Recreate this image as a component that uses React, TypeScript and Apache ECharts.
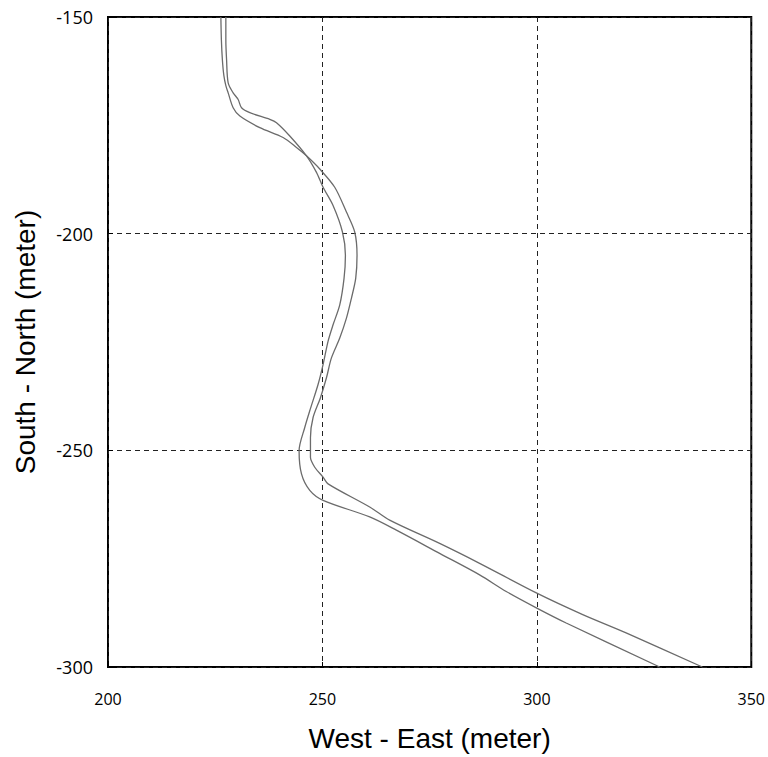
import React, { useEffect, useRef } from "react";
import * as echarts from "echarts";

// Track 1 (west side at the north end, east side in the middle)
const track1X = [226.32, 226.44, 226.67, 227.02, 227.48, 228.02, 229.18, 230.75, 235.4, 240.83, 243.95, 246.28, 249.38, 252.87, 255.6, 257.53, 258.07, 257.76, 256.76, 255.6, 254.04, 252.1, 250.94, 249.54, 247.82, 247.21, 247.21, 248.21, 250.15, 251.31, 261.02, 265.68, 277.33, 286.65, 299.99, 310.7, 320.81, 338.59];
const track1Y = [-150, -155.28, -159.86, -163.53, -165.83, -167.5, -170.94, -172.87, -175.53, -177.82, -180.11, -182.04, -185.09, -189.29, -195.02, -199.61, -204.98, -210.32, -214.91, -219.5, -224.08, -228.67, -233.26, -237.85, -242.43, -247.02, -251.61, -253.9, -256.19, -257.73, -263.07, -266.12, -271.49, -276.08, -282.96, -287.91, -292.13, -300];

// Track 2
const track2X = [227.48, 227.48, 227.65, 228.02, 229.18, 230.35, 231.14, 233.07, 237.73, 239.29, 242.39, 246.28, 248.61, 250.15, 252.48, 254.67, 255.36, 255.04, 254.04, 252.48, 251.31, 250.15, 248.98, 247.28, 245.88, 244.56, 245.12, 247.05, 250.15, 261.02, 267.24, 277.33, 286.65, 292.86, 299.99, 306.84, 328.64];
const track2Y = [-150, -155.28, -159.86, -165.21, -167.5, -169.04, -170.94, -172.09, -173.62, -174.38, -177.45, -182.04, -185.85, -189.29, -193.51, -199.61, -204.98, -210.32, -216.44, -221.03, -224.84, -230.21, -234.8, -240.14, -244.73, -250.07, -255.44, -259.24, -261.54, -265.37, -268.42, -273.78, -278.74, -282.57, -286.4, -289.84, -300];

const xTicks = [200, 250, 300, 350];
const yTicks = [-300, -250, -200, -150];

const zip = (xs: number[], ys: number[]) => xs.map((x, i) => [x, ys[i]]);

export default function App() {
  const ref = useRef<HTMLDivElement>(null);
  useEffect(() => {
    document.body.style.margin = "0";
    const chart = echarts.init(ref.current!, null, { renderer: "svg" });
    const lineStyle = { color: "#6b6b6b", width: 1.3 };
    chart.setOption({
      animation: false,
      backgroundColor: "#ffffff",
      grid: {
        left: 108,
        right: 16,
        top: 17,
        bottom: 86,
        show: true,
        borderColor: "#000000",
        borderWidth: 2,
      },
      xAxis: {
        type: "value",
        min: xTicks[0],
        max: xTicks[xTicks.length - 1],
        interval: 50,
        name: "West - East (meter)",
        nameLocation: "middle",
        nameGap: 57,
        nameTextStyle: { fontFamily: "Liberation Sans", fontSize: 28, color: "#000" },
        axisLine: { show: false },
        axisTick: { show: true, inside: true, length: 5, lineStyle: { color: "#000" } },
        axisLabel: { margin: 24, fontFamily: "Open Sans", fontSize: 16, color: "#000" },
        splitLine: { show: true, lineStyle: { color: "#222", type: [5, 4], width: 1 } },
      },
      yAxis: {
        type: "value",
        min: yTicks[0],
        max: yTicks[yTicks.length - 1],
        interval: 50,
        name: "South - North (meter)",
        nameLocation: "middle",
        nameGap: 69,
        nameTextStyle: { fontFamily: "Liberation Sans", fontSize: 28, color: "#000" },
        axisLine: { show: false },
        axisTick: { show: true, inside: true, length: 5, lineStyle: { color: "#000" } },
        axisLabel: { margin: 15, fontFamily: "Open Sans", fontSize: 18, color: "#000" },
        splitLine: { show: true, lineStyle: { color: "#222", type: [5, 4], width: 1 } },
      },
      series: [
        {
          type: "line",
          data: zip(track1X, track1Y),
          showSymbol: false,
          smooth: 0.3,
          lineStyle,
        },
        {
          type: "line",
          data: zip(track2X, track2Y),
          showSymbol: false,
          smooth: 0.3,
          lineStyle,
        },
      ],
    });
    return () => chart.dispose();
  }, []);
  return <div ref={ref} style={{ width: 768, height: 757 }} />;
}
